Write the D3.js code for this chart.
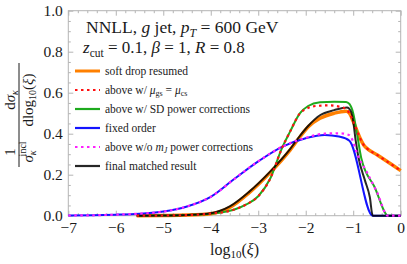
<!DOCTYPE html>
<html>
<head>
<meta charset="utf-8">
<script src="https://cdn.jsdelivr.net/npm/d3@7"></script>
<style>
body { margin: 0; background: #fff; }
</style>
</head>
<body>
<svg id="chart" width="407" height="264"></svg>
<script>
// values, x = log10(xi)
var softX  = [-5.56, -5, -4.5, -4, -3.6, -3.2, -2.75, -2.33, -2.12, -1.94, -1.7, -1.4, -1.15, -1.08, -1.0, -0.93, -0.86, -0.78, -0.72, -0.5, 0];
var softY  = [0, 0.001, 0.003, 0.01, 0.04, 0.11, 0.21, 0.32, 0.385, 0.435, 0.475, 0.5, 0.51, 0.5, 0.46, 0.42, 0.38, 0.345, 0.33, 0.297, 0.22];

var muX    = [-5.56, -5, -4.5, -4, -3.5, -3.25, -3, -2.75, -2.5, -2.33, -2.12, -2.0, -1.8, -1.5, -1.3, -1.15, -1.08, -1.0, -0.93, -0.86, -0.78, -0.72, -0.5, 0];
var muY    = [0, 0.001, 0.003, 0.01, 0.03, 0.055, 0.095, 0.18, 0.33, 0.41, 0.5, 0.52, 0.535, 0.538, 0.532, 0.52, 0.5, 0.46, 0.42, 0.38, 0.345, 0.33, 0.297, 0.22];

var sdX    = [-5.56, -5, -4.5, -4, -3.5, -3.25, -3, -2.75, -2.5, -2.33, -2.12, -1.95, -1.7, -1.4, -1.15, -1.08, -1.0, -0.92, -0.83, -0.55, -0.26, 0];
var sdY    = [0, 0.001, 0.003, 0.01, 0.03, 0.055, 0.095, 0.18, 0.33, 0.41, 0.5, 0.535, 0.553, 0.556, 0.555, 0.545, 0.5, 0.4, 0.28, 0.14, 0, 0];

var fixedX = [-7, -6.5, -6, -5.5, -5, -4.5, -4, -3.5, -3, -2.5, -2, -1.6, -1.3, -1.08, -0.59, 0];
var fixedY = [0.001, 0.002, 0.005, 0.01, 0.02, 0.045, 0.092, 0.18, 0.265, 0.336, 0.378, 0.394, 0.386, 0.366, 0, 0];

var noMjX  = [-7, -6.5, -6, -5.5, -5, -4.5, -4, -3.5, -3, -2.5, -2, -1.6, -1.3, -1.1, -1.0, -0.93, -0.72, -0.5, -0.27, 0];
var noMjY  = [0.001, 0.002, 0.005, 0.01, 0.02, 0.045, 0.092, 0.18, 0.265, 0.336, 0.38, 0.4, 0.402, 0.395, 0.36, 0.31, 0.215, 0.115, 0, 0];

var finalX = [-5.56, -5, -4.5, -4, -3.6, -3.2, -2.75, -2.33, -2.12, -1.94, -1.7, -1.4, -1.13, -1.05, -1.0, -0.95, -0.89, -0.75, -0.65, -0.59, 0];
var finalY = [0, 0.001, 0.004, 0.012, 0.045, 0.115, 0.215, 0.325, 0.39, 0.44, 0.49, 0.515, 0.528, 0.51, 0.46, 0.37, 0.285, 0.17, 0.09, 0, 0];

var xTicks = [-7, -6, -5, -4, -3, -2, -1, 0];
var yTicks = [0, 0.2, 0.4, 0.6, 0.8, 1.0];

var series = [
    {name: "soft", xs: softX, ys: softY, color: "#ff8000", width: 3.5, dash: null},
    {name: "sd", xs: sdX, ys: sdY, color: "#1eaa1e", width: 2, dash: null},
    {name: "fixed", xs: fixedX, ys: fixedY, color: "#1414ff", width: 2, dash: null},
    {name: "final", xs: finalX, ys: finalY, color: "#000000", width: 2, dash: null, opacity: 0.85},
    {name: "mu", xs: muX, ys: muY, color: "#ff1010", width: 2.2, dash: "2.5,3.5"},
    {name: "nomj", xs: noMjX, ys: noMjY, color: "#ff20ff", width: 2.2, dash: "2.5,3.5"}
];

var serif = "'Liberation Serif', 'DejaVu Serif', 'Times New Roman', serif";
var ink = "#1a1a1a";

var svg = d3.select("#chart");
var pLeft = 68.3, pRight = 400.7, pTop = 10.7, pBottom = 215.7;

var x = d3.scaleLinear().domain([-7, 0]).range([pLeft, pRight]);
var y = d3.scaleLinear().domain([0, 1]).range([pBottom, pTop]);

var minorX = d3.range(-7, 0.001, 0.2).filter(v => Math.abs(v - Math.round(v)) > 0.01);
var minorY = d3.range(0, 1.001, 0.05).filter(v => Math.abs(v * 5 - Math.round(v * 5)) > 0.01);

var frameCol = "#b4b4b4";

function styleAxis(g) {
    g.select(".domain").remove();
    g.selectAll("line").attr("stroke", frameCol);
    g.attr("font-family", serif);
    g.selectAll("text").attr("font-family", serif).attr("font-size", 15.5).attr("fill", ink);
}

function addText(px, py, size) {
    return svg.append("text").attr("x", px).attr("y", py)
        .attr("font-family", serif).attr("font-size", size).attr("fill", ink);
}

// frame
svg.append("rect")
    .attr("x", pLeft).attr("y", pTop)
    .attr("width", pRight - pLeft).attr("height", pBottom - pTop)
    .attr("fill", "none").attr("stroke", frameCol).attr("stroke-width", 1);

// bottom axis with labels
svg.append("g").attr("transform", "translate(0," + pBottom + ")")
    .call(d3.axisBottom(x).tickValues(xTicks).tickSizeInner(-5).tickSizeOuter(0).tickPadding(6.5).tickFormat(d3.format("d")))
    .call(styleAxis);
svg.append("g").attr("transform", "translate(0," + pBottom + ")")
    .call(d3.axisBottom(x).tickValues(minorX).tickSize(-2.5).tickFormat(""))
    .call(styleAxis);

// top axis, ticks only
svg.append("g").attr("transform", "translate(0," + pTop + ")")
    .call(d3.axisTop(x).tickValues(xTicks).tickSize(-5).tickFormat(""))
    .call(styleAxis);
svg.append("g").attr("transform", "translate(0," + pTop + ")")
    .call(d3.axisTop(x).tickValues(minorX).tickSize(-2.5).tickFormat(""))
    .call(styleAxis);

// left axis with labels
svg.append("g").attr("transform", "translate(" + pLeft + ",0)")
    .call(d3.axisLeft(y).tickValues(yTicks).tickSizeInner(-5).tickSizeOuter(0).tickPadding(5.5).tickFormat(d3.format(".1f")))
    .call(styleAxis);
svg.append("g").attr("transform", "translate(" + pLeft + ",0)")
    .call(d3.axisLeft(y).tickValues(minorY).tickSize(-2.5).tickFormat(""))
    .call(styleAxis);

// right axis, ticks only
svg.append("g").attr("transform", "translate(" + pRight + ",0)")
    .call(d3.axisRight(y).tickValues(yTicks).tickSize(-5).tickFormat(""))
    .call(styleAxis);
svg.append("g").attr("transform", "translate(" + pRight + ",0)")
    .call(d3.axisRight(y).tickValues(minorY).tickSize(-2.5).tickFormat(""))
    .call(styleAxis);

// curves
var line = d3.line()
    .x(d => x(d[0]))
    .y(d => y(d[1]))
    .curve(d3.curveMonotoneX);

svg.append("g").selectAll("path")
    .data(series)
    .enter().append("path")
    .attr("d", s => line(d3.zip(s.xs, s.ys)))
    .attr("fill", "none")
    .attr("stroke", s => s.color)
    .attr("stroke-width", s => s.width)
    .attr("stroke-dasharray", s => s.dash)
    .attr("stroke-opacity", s => s.opacity || 1)
    .attr("stroke-linejoin", "round");

// title lines
var t1 = addText(86, 33, 17.5);
t1.append("tspan").text("NNLL, ");
t1.append("tspan").attr("font-style", "italic").text("g");
t1.append("tspan").text(" jet, ");
t1.append("tspan").attr("font-style", "italic").text("p");
t1.append("tspan").attr("font-style", "italic").attr("font-size", 12).attr("dy", 3.5).text("T");
t1.append("tspan").attr("dy", -3.5).text(" = 600 GeV");

var t2 = addText(83, 53, 17);
t2.append("tspan").attr("font-style", "italic").text("z");
t2.append("tspan").attr("font-size", 11.5).attr("dy", 3.5).text("cut");
t2.append("tspan").attr("dy", -3.5).text(" = 0.1,  ");
t2.append("tspan").attr("font-style", "italic").text("β");
t2.append("tspan").text(" = 1,  ");
t2.append("tspan").attr("font-style", "italic").text("R");
t2.append("tspan").text(" = 0.8");

// legend
var legend = [
    {i: 0, parts: [["soft drop resumed"]]},
    {i: 4, parts: [["above w/ "], ["μ", "i"], ["gs", "s"], [" = ", "u"], ["μ", "i"], ["cs", "s"]]},
    {i: 1, parts: [["above w/ SD power corrections"]]},
    {i: 2, parts: [["fixed order"]]},
    {i: 5, parts: [["above w/o "], ["m", "i"], ["J", "si"], [" power corrections", "u"]]},
    {i: 3, parts: [["final matched result"]]}
];
var legY0 = 71, legDy = 19;
legend.forEach(function(item, k) {
    var s = series[item.i];
    var ly = legY0 + k * legDy;
    svg.append("line")
        .attr("x1", 75).attr("x2", 100).attr("y1", ly).attr("y2", ly)
        .attr("stroke", s.color)
        .attr("stroke-width", s.name == "soft" ? 3 : 2.2)
        .attr("stroke-dasharray", s.dash)
        .attr("stroke-opacity", s.opacity || 1);
    var t = addText(105, ly + 3.8, 11.5);
    item.parts.forEach(function(p) {
        var ts = t.append("tspan").text(p[0]);
        var f = p[1] || "";
        if (f.indexOf("i") >= 0) ts.attr("font-style", "italic");
        if (f.indexOf("s") >= 0) ts.attr("font-size", 8).attr("dy", 2);
        if (f.indexOf("u") >= 0) ts.attr("dy", -2);
    });
});

// y axis label: 1/sigma^incl * dsigma/dlog10(xi), rotated
function fraction(cx, cy, half, num, den) {
    var g = svg.append("g").attr("transform", "translate(" + cx + "," + cy + ") rotate(-90)");
    g.append("line").attr("x1", -half).attr("x2", half).attr("y1", 0).attr("y2", 0)
        .attr("stroke", ink).attr("stroke-width", 1);
    var tn = g.append("text").attr("x", 0).attr("y", -4).attr("text-anchor", "middle")
        .attr("font-family", serif).attr("font-size", 15).attr("fill", ink);
    num(tn);
    var td = g.append("text").attr("x", 0).attr("y", 14).attr("text-anchor", "middle")
        .attr("font-family", serif).attr("font-size", 15).attr("fill", ink);
    den(td);
}
fraction(19, 152, 15, function(t) {
    t.text("1");
}, function(t) {
    t.append("tspan").attr("font-style", "italic").text("σ");
    t.append("tspan").attr("font-style", "italic").attr("font-size", 10).attr("dy", 3).text("κ");
    t.append("tspan").attr("font-size", 10).attr("dx", -6).attr("dy", -10).text("incl");
});
fraction(19, 100, 37, function(t) {
    t.append("tspan").text("d");
    t.append("tspan").attr("font-style", "italic").text("σ");
    t.append("tspan").attr("font-style", "italic").attr("font-size", 10).attr("dy", 3).text("κ");
}, function(t) {
    t.append("tspan").text("dlog");
    t.append("tspan").attr("font-size", 10).attr("dy", 3).text("10");
    t.append("tspan").attr("dy", -3).text("(");
    t.append("tspan").attr("font-style", "italic").text("ξ");
    t.append("tspan").text(")");
});

// x axis label
var xl = addText((pLeft + pRight) / 2, 255, 16).attr("text-anchor", "middle");
xl.append("tspan").text("log");
xl.append("tspan").attr("font-size", 11).attr("dy", 3).text("10");
xl.append("tspan").attr("dy", -3).text("(");
xl.append("tspan").attr("font-style", "italic").text("ξ");
xl.append("tspan").text(")");
</script>
</body>
</html>
